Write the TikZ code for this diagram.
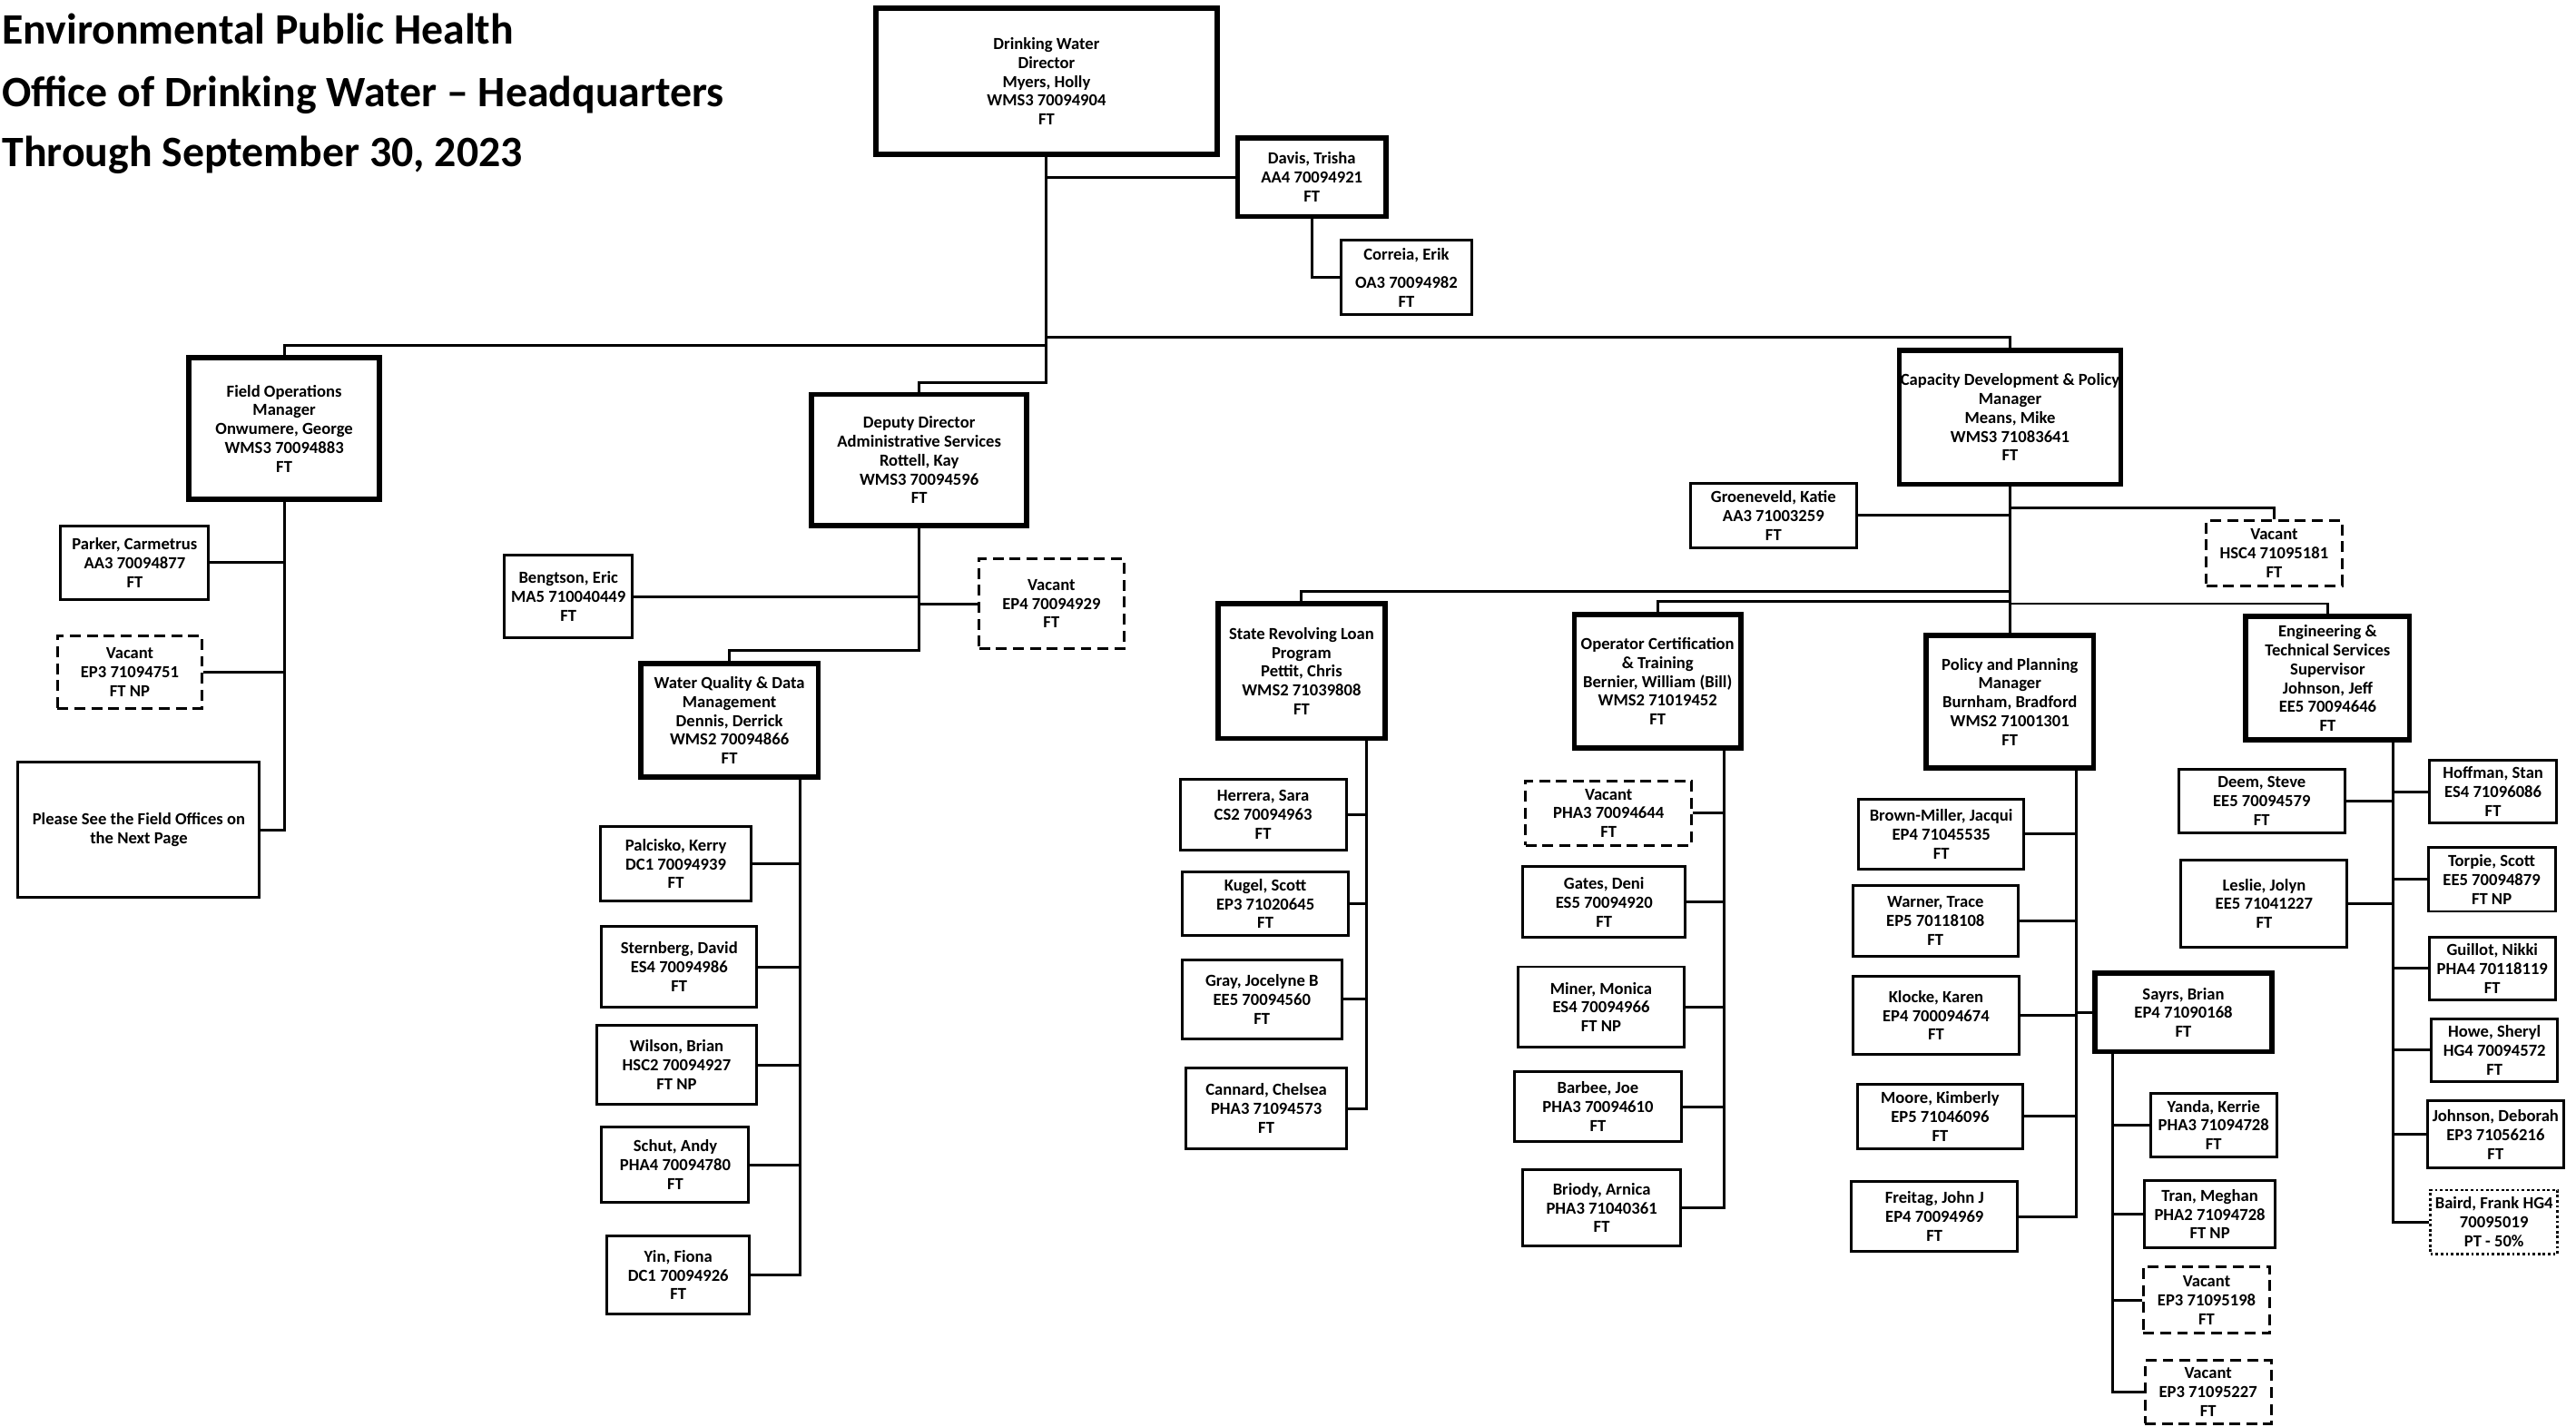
\documentclass[tikz,border=0pt]{standalone}
\usepackage{fontspec}
\setmainfont{Carlito}
\newcommand\boxfont{\fontsize{5.3}{5.9}\selectfont\bfseries}
\newcommand\titlefont{\fontsize{13.6}{16}\selectfont\bfseries}
\tikzset{
  pbox/.style={draw, line width=0.85pt, inner sep=0pt, align=center, font=\boxfont},
  mgr/.style={pbox, line width=1.6pt},
  vac/.style={pbox, dash pattern=on 3.4pt off 1.9pt},
  dotbox/.style={pbox, line width=0.8pt, dash pattern=on 0.8pt off 0.8pt},
  conn/.style={line width=0.85pt},
  ttl/.style={anchor=base west, inner sep=0pt, font=\titlefont}
}
\newcommand\orgbox[7]{%
  \pgfmathsetmacro\ocx{(#2+#4)/2}\pgfmathsetmacro\ocy{(#3+#5)/2}%
  \pgfmathsetmacro\obw{(#4-#2)*0.181}\pgfmathsetmacro\obh{(#5-#3)*0.181}%
  \node[#6, minimum width=\obw mm, minimum height=\obh mm] (#1) at (\ocx,\ocy) {#7};}
\begin{document}
\begin{tikzpicture}[x=0.181mm,y=-0.181mm]
\useasboundingbox (0,0) rectangle (1568,868);
\fill[white] (0,0) rectangle (1568,868);
% titles
\node[ttl] (t1) at (1,27) {Environmental Public Health};
\node[ttl] (t2) at (1,65) {Office of Drinking Water – Headquarters};
\node[ttl] (t3) at (1,101.5) {Through September 30, 2023};
% top
\orgbox{dir}{533}{5}{741}{94}{mgr}{Drinking Water\\Director\\Myers, Holly\\WMS3 70094904\\FT}
\orgbox{davis}{753.3}{83.8}{843.7}{131.7}{mgr}{Davis, Trisha\\AA4 70094921\\FT}
\orgbox{correia}{816.2}{146.4}{895.9}{191.5}{pbox}{Correia, Erik\\[2.8pt]OA3 70094982\\FT}
% field ops
\orgbox{fo}{115}{217.7}{231}{304}{mgr}{Field Operations\\Manager\\Onwumere, George\\WMS3 70094883\\FT}
\orgbox{parker}{37}{320}{127}{365}{pbox}{Parker, Carmetrus\\AA3 70094877\\FT}
\orgbox{vac1}{35}{387}{123}{431}{vac}{Vacant\\EP3 71094751\\FT NP}
\orgbox{please}{11}{464}{158}{546}{pbox}{Please See the Field Offices on\\the Next Page}
% deputy
\orgbox{dep}{494}{240}{625}{320}{mgr}{Deputy Director\\Administrative Services\\Rottell, Kay\\WMS3 70094596\\FT}
\orgbox{beng}{307}{338}{385}{388}{pbox}{Bengtson, Eric\\MA5 710040449\\FT}
\orgbox{vac2}{596}{340}{684}{395}{vac}{Vacant\\EP4 70094929\\FT}
\orgbox{wq}{390}{404}{498}{473}{mgr}{Water Quality \& Data\\Management\\Dennis, Derrick\\WMS2 70094866\\FT}
\orgbox{palcisko}{365.4}{503}{457.4}{548.4}{pbox}{Palcisko, Kerry\\DC1 70094939\\FT}
\orgbox{sternberg}{366.3}{564}{460.6}{612.9}{pbox}{Sternberg, David\\ES4 70094986\\FT}
\orgbox{wilson}{363.2}{624.3}{460.6}{672}{pbox}{Wilson, Brian\\HSC2 70094927\\FT NP}
\orgbox{schut}{366.3}{686}{455.8}{731.8}{pbox}{Schut, Andy\\PHA4 70094780\\FT}
\orgbox{yin}{369.6}{752}{456.1}{800}{pbox}{Yin, Fiona\\DC1 70094926\\FT}
% capacity
\orgbox{cap}{1156}{213.3}{1291}{294.7}{mgr}{Capacity Development \& Policy\\Manager\\Means, Mike\\WMS3 71083641\\FT}
\orgbox{gro}{1029}{294.3}{1130}{333.3}{pbox}{Groeneveld, Katie\\AA3 71003259\\FT}
\orgbox{vac3}{1343}{316.8}{1425.5}{356.4}{vac}{Vacant\\HSC4 71095181\\FT}
\orgbox{srf}{741.5}{367.4}{843}{449.4}{mgr}{State Revolving Loan\\Program\\Pettit, Chris\\WMS2 71039808\\FT}
\orgbox{op}{958.3}{373.9}{1059.7}{455.4}{mgr}{Operator Certification\\\& Training\\Bernier, William (Bill)\\WMS2 71019452\\FT}
\orgbox{pol}{1172.4}{386.8}{1274.3}{467.4}{mgr}{Policy and Planning\\Manager\\Burnham, Bradford\\WMS2 71001301\\FT}
\orgbox{eng}{1367}{375.3}{1466.7}{450.3}{mgr}{Engineering \&\\Technical Services\\Supervisor\\Johnson, Jeff\\EE5 70094646\\FT}
% SRF staff
\orgbox{herrera}{718.3}{474.4}{819.4}{517.4}{pbox}{Herrera, Sara\\CS2 70094963\\FT}
\orgbox{kugel}{719.7}{530.6}{820.8}{569.6}{pbox}{Kugel, Scott\\EP3 71020645\\FT}
\orgbox{gray}{719.7}{584}{816.6}{632.4}{pbox}{Gray, Jocelyne B\\EE5 70094560\\FT}
\orgbox{cannard}{721.8}{650}{819.8}{699.3}{pbox}{Cannard, Chelsea\\PHA3 71094573\\FT}
% Op staff
\orgbox{vac4}{928.6}{475.4}{1029.7}{514.4}{vac}{Vacant\\PHA3 70094644\\FT}
\orgbox{gates}{926.9}{527.6}{1025.9}{570.7}{pbox}{Gates, Deni\\ES5 70094920\\FT}
\orgbox{miner}{924}{588.4}{1025.2}{637.4}{pbox}{Miner, Monica\\ES4 70094966\\FT NP}
\orgbox{barbee}{921.9}{652}{1023.4}{695}{pbox}{Barbee, Joe\\PHA3 70094610\\FT}
\orgbox{briody}{926.9}{711.7}{1023}{758.5}{pbox}{Briody, Arnica\\PHA3 71040361\\FT}
% Policy staff
\orgbox{bm}{1131.2}{486.2}{1232}{529.2}{pbox}{Brown-Miller, Jacqui\\EP4 71045535\\FT}
\orgbox{warner}{1127.7}{538.9}{1228.5}{581.9}{pbox}{Warner, Trace\\EP5 70118108\\FT}
\orgbox{klocke}{1127.7}{594.3}{1229.2}{641.7}{pbox}{Klocke, Karen\\EP4 700094674\\FT}
\orgbox{moore}{1130.5}{659.9}{1231.3}{699}{pbox}{Moore, Kimberly\\EP5 71046096\\FT}
\orgbox{freitag}{1127}{719}{1228.1}{761.8}{pbox}{Freitag, John J\\EP4 70094969\\FT}
\orgbox{sayrs}{1275.1}{592.3}{1383}{640}{mgr}{Sayrs, Brian\\EP4 71090168\\FT}
\orgbox{yanda}{1309}{665.4}{1385.8}{704}{pbox}{Yanda, Kerrie\\PHA3 71094728\\FT}
\orgbox{tran}{1305.2}{718.4}{1385}{759.6}{pbox}{Tran, Meghan\\PHA2 71094728\\FT NP}
\orgbox{vac5}{1304.6}{771.1}{1381.7}{811.6}{vac}{Vacant\\EP3 71095198\\FT}
\orgbox{vac6}{1305.6}{828}{1382.5}{866.5}{vac}{Vacant\\EP3 71095227\\FT}
% Eng staff
\orgbox{deem}{1326.2}{468.2}{1427.2}{506.9}{pbox}{Deem, Steve\\EE5 70094579\\FT}
\orgbox{leslie}{1327.6}{523.3}{1428.7}{576.6}{pbox}{Leslie, Jolyn\\EE5 71041227\\FT}
\orgbox{hoffman}{1478.8}{462.5}{1556.2}{501.1}{pbox}{Hoffman, Stan\\ES4 71096086\\FT}
\orgbox{torpie}{1478}{516}{1555.3}{554.7}{pbox}{Torpie, Scott\\EE5 70094879\\FT NP}
\orgbox{guillot}{1478.5}{570.3}{1555.6}{608.7}{pbox}{Guillot, Nikki\\PHA4 70118119\\FT}
\orgbox{howe}{1480}{620}{1556.8}{658.3}{pbox}{Howe, Sheryl\\HG4 70094572\\FT}
\orgbox{johnson}{1477.7}{670}{1560.3}{711}{pbox}{Johnson, Deborah\\EP3 71056216\\FT}
\orgbox{baird}{1479.4}{724.3}{1556.8}{763.3}{dotbox}{Baird, Frank HG4\\70095019\\PT - 50\%}
% connectors
\coordinate (busL) at (637,210);
\coordinate (busR) at (637,205.3);
\coordinate (depj) at (637,232.6);
\draw[conn] (dir.south) -- (depj) -| (dep.north);
\draw[conn] (busL) -| (fo.north);
\draw[conn] (busR) -| (cap.north);
\draw[conn] (dir.south |- davis.west) -- (davis.west);
\draw[conn] (davis.south) |- (correia.west);
\draw[conn] (fo.south) |- (please.east);
\draw[conn] (parker.east) -- (parker.east -| fo.south);
\draw[conn] (vac1.east) -- (vac1.east -| fo.south);
\coordinate (wqj) at (559.5,396);
\draw[conn] (dep.south) -- (wqj) -| (wq.north);
\draw[conn] (beng.east) -- (beng.east -| dep.south);
\draw[conn] (vac2.west) -- (vac2.west -| dep.south);
\coordinate (wqt) at (487,473);
\draw[conn] (wqt) |- (yin.east);
\foreach \n in {palcisko,sternberg,wilson,schut} \draw[conn] (\n.east) -- (\n.east -| wqt);
\draw[conn] (cap.south) -- (cap.south |- pol.north);
\draw[conn] (gro.east) -- (gro.east -| cap.south);
\coordinate (v3j) at (1223.3,309);
\draw[conn] (v3j) -| (vac3.north);
\coordinate (srfj) at (1223.3,359.7);
\draw[conn] (srfj) -| (srf.north);
\coordinate (opj) at (1223.3,366.1);
\draw[conn] (opj) -| (op.north);
\coordinate (engj) at (1223.3,367.4);
\draw[conn] (engj) -| (eng.north);
\coordinate (srft) at (832,449.4);
\draw[conn] (srft) |- (cannard.east);
\foreach \n in {herrera,kugel,gray} \draw[conn] (\n.east) -- (\n.east -| srft);
\coordinate (opt) at (1049.7,455.4);
\draw[conn] (opt) |- (briody.east);
\foreach \n in {vac4,gates,miner,barbee} \draw[conn] (\n.east) -- (\n.east -| opt);
\coordinate (polt) at (1263.8,467.4);
\draw[conn] (polt) |- (freitag.east);
\foreach \n in {bm,warner,klocke,moore} \draw[conn] (\n.east) -- (\n.east -| polt);
\draw[conn] (sayrs.west) -- (sayrs.west -| polt);
\coordinate (sayt) at (1286,640);
\draw[conn] (sayt) |- (vac6.west);
\foreach \n in {yanda,tran,vac5} \draw[conn] (\n.west) -- (\n.west -| sayt);
\coordinate (engt) at (1456.4,450.3);
\draw[conn] (engt) |- (baird.west);
\foreach \n in {deem,leslie} \draw[conn] (\n.east) -- (\n.east -| engt);
\foreach \n in {hoffman,torpie,guillot,howe,johnson} \draw[conn] (\n.west) -- (\n.west -| engt);
\end{tikzpicture}
\end{document}
